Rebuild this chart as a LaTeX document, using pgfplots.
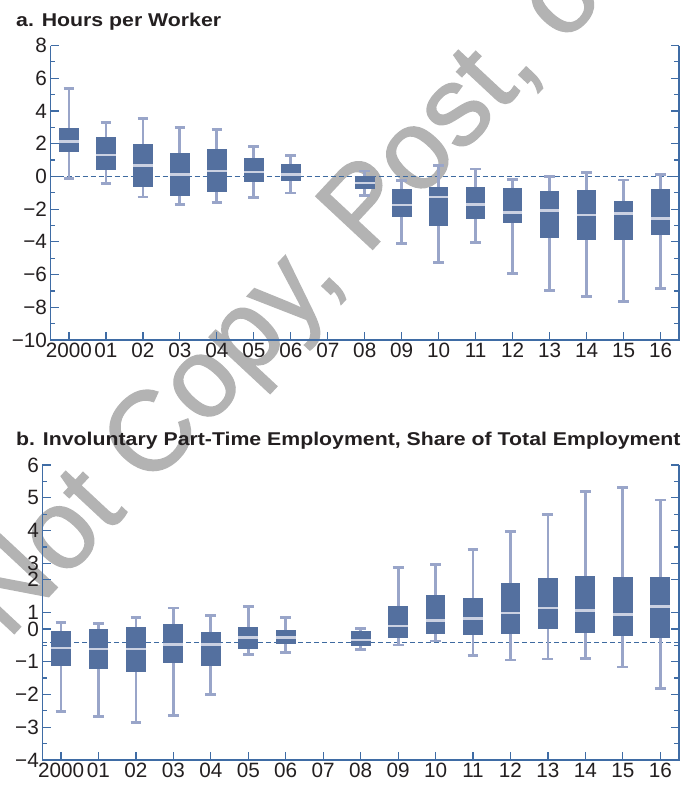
\documentclass[border=0pt]{standalone}
\usepackage{fontspec}
\setmainfont{Liberation Sans}
\usepackage{pgfplots}
\pgfplotsset{compat=1.18}
\usepgfplotslibrary{statistics}

\newfontfamily\tickfamily{Liberation Sans}
\newfontface\titleface[FakeStretch=1.15]{Liberation Sans Bold}
\newfontfamily\wmfamily[FakeBold=1.2]{Liberation Sans}

\definecolor{boxc}{RGB}{84,112,159}
\definecolor{whiskc}{RGB}{153,165,201}
\definecolor{medc}{RGB}{203,209,226}
\definecolor{axisc}{RGB}{63,108,165}
\definecolor{dashc}{RGB}{62,106,160}
\definecolor{wmc}{RGB}{179,179,179}
\definecolor{labc}{RGB}{35,31,32}

% one box: position, lower whisker, lower quartile, median, upper quartile, upper whisker
\newcommand{\bx}[6]{%
  \addplot[boxplot prepared={draw position=#1, lower whisker=#2,
    lower quartile=#3, median=#4, upper quartile=#5, upper whisker=#6}]
    coordinates {};}

\pgfplotsset{
  panel/.style={
    scale only axis, clip=false,
    xmin=-0.5, xmax=16.5,
    xtick={0,...,16},
    xticklabels={2000,01,02,03,04,05,06,07,08,09,10,11,12,13,14,15,16},
    xtick pos=lower, ytick pos=both,
    tick align=inside,
    axis line style={draw=none},
    major tick length=8.5bp, minor tick length=5bp,
    tick style={axisc, line width=1.2bp},
    ticklabel style={font=\tickfamily\fontsize{20.7bp}{24bp}\selectfont, text=labc},
    boxplot/draw direction=y,
    boxplot/box extend=0.53,
    boxplot/whisker extend=0.29,
    boxplot/every box/.style={fill=boxc, draw=none},
    boxplot/every whisker/.style={draw=whiskc, line width=2.8bp},
    boxplot/every median/.style={draw=medc, line width=2.3bp},
  },
  refline/.style={dashc, line width=1.2bp, dash pattern=on 5bp off 3bp, forget plot},
}
\tikzset{spines/.style={axisc, line width=1.3bp}}

\begin{document}
\begin{tikzpicture}
\useasboundingbox (0,0) rectangle (683bp,-786bp);

% background watermark
\node[anchor=base west, rotate=47, inner sep=0, text=wmc,
  font=\wmfamily\fontsize{113bp}{113bp}\selectfont]
  at (-112bp,-769bp) {Do Not Copy, Post, or Distribute};

% titles
\node[anchor=base west, inner sep=0, text=labc, font=\titleface\fontsize{18.5bp}{22bp}\selectfont]
  at (16bp,-26.7bp) {a. Hours per Worker};
\node[anchor=base west, inner sep=0, text=labc, font=\titleface\fontsize{18.5bp}{22bp}\selectfont]
  at (16bp,-445.7bp) {b. Involuntary Part-Time Employment, Share of Total Employment};

% panel a: hours per worker
\begin{axis}[panel,
  at={(50.5bp,-340bp)}, anchor=south west,
  width=628.5bp, height=294.5bp,
  ymin=-10, ymax=8,
  ytick={-10,-8,...,8},
  yticklabels={−10,−8,−6,−4,−2,0,2,4,6,8},
  minor ytick={-9,-7,...,7},
]
\addplot[refline] coordinates {(-0.5,0) (16.5,0)};
\bx{0}{-0.14}{1.48}{2.14}{2.93}{5.37}
\bx{1}{-0.41}{0.39}{1.30}{2.38}{3.31}
\bx{2}{-1.26}{-0.65}{0.67}{1.95}{3.52}
\bx{3}{-1.73}{-1.20}{0.12}{1.40}{2.99}
\bx{4}{-1.61}{-0.96}{0.35}{1.65}{2.89}
\bx{5}{-1.28}{-0.35}{0.28}{1.10}{1.85}
\bx{6}{-1.02}{-0.28}{0.12}{0.73}{1.30}
\bx{8}{-1.18}{-0.77}{-0.39}{0.04}{0.33}
\bx{9}{-4.11}{-2.48}{-1.73}{-0.79}{-0.26}
\bx{10}{-5.25}{-3.03}{-1.28}{-0.67}{0.69}
\bx{11}{-4.03}{-2.62}{-1.71}{-0.67}{0.45}
\bx{12}{-5.92}{-2.85}{-2.20}{-0.73}{-0.20}
\bx{13}{-6.98}{-3.76}{-2.09}{-0.92}{-0.02}
\bx{14}{-7.32}{-3.88}{-2.36}{-0.85}{0.24}
\bx{15}{-7.67}{-3.88}{-2.26}{-1.53}{-0.22}
\bx{16}{-6.83}{-3.58}{-2.58}{-0.79}{0.12}
\draw[spines] (rel axis cs:0,1) -- (rel axis cs:0,0) -- (rel axis cs:1,0) -- (rel axis cs:1,1);
\end{axis}

% panel b: involuntary part-time employment
\begin{axis}[panel,
  at={(42.3bp,-760bp)}, anchor=south west,
  width=636.7bp, height=295bp,
  ymin=-4, ymax=5,
  ytick={-4,-3,-2,-1,0,0.5,1.5,2,3,4,5},
  yticklabels={−4,−3,−2,−1,0,1,2,3,4,5,6},
  minor ytick={-3.5,-2.5,-1.5,-0.5,2.5,3.5,4.5},
]
\addplot[refline] coordinates {(-0.5,-0.42) (16.5,-0.42)};
\bx{0}{-2.52}{-1.12}{-0.58}{-0.07}{0.19}
\bx{1}{-2.68}{-1.21}{-0.62}{0.01}{0.17}
\bx{2}{-2.85}{-1.30}{-0.61}{0.05}{0.35}
\bx{3}{-2.65}{-1.03}{-0.48}{0.14}{0.64}
\bx{4}{-1.99}{-1.12}{-0.48}{-0.09}{0.42}
\bx{5}{-0.79}{-0.60}{-0.26}{0.05}{0.69}
\bx{6}{-0.71}{-0.47}{-0.26}{-0.04}{0.34}
\bx{8}{-0.64}{-0.51}{-0.34}{-0.07}{0.02}
\bx{9}{-0.49}{-0.27}{0.08}{0.70}{1.87}
\bx{10}{-0.37}{-0.15}{0.26}{1.04}{1.97}
\bx{11}{-0.80}{-0.18}{0.32}{0.94}{2.43}
\bx{12}{-0.95}{-0.15}{0.49}{1.39}{2.96}
\bx{13}{-0.92}{0.01}{0.63}{1.54}{3.49}
\bx{14}{-0.90}{-0.11}{0.56}{1.61}{4.19}
\bx{15}{-1.16}{-0.23}{0.44}{1.58}{4.31}
\bx{16}{-1.83}{-0.29}{0.68}{1.58}{3.93}
\draw[spines] (rel axis cs:0,1) -- (rel axis cs:0,0) -- (rel axis cs:1,0) -- (rel axis cs:1,1);
\end{axis}
\end{tikzpicture}
\end{document}
